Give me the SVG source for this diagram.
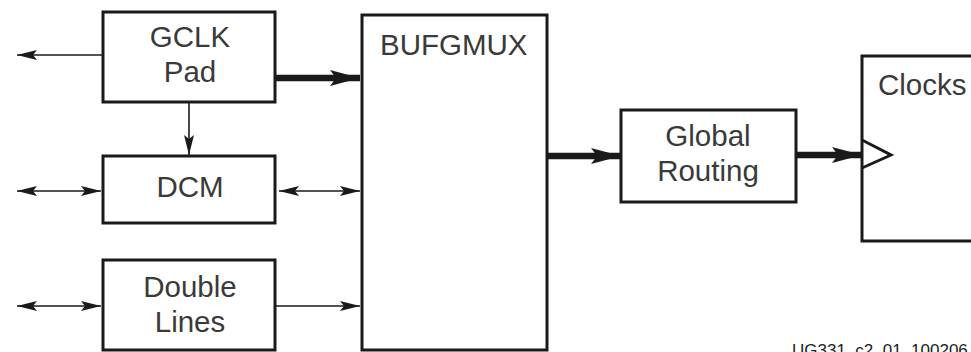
<svg xmlns="http://www.w3.org/2000/svg" width="971" height="352" viewBox="0 0 971 352">
<style>
.box{fill:#fff;stroke:#1a1a1a;stroke-width:3}
.lbl{font-family:"Liberation Sans",Arial,sans-serif;font-size:29.5px;fill:#3a3a3a}
.c{text-anchor:middle}
.thin{stroke:#1a1a1a;stroke-width:1.6;fill:none}
.thick{stroke:#1a1a1a;stroke-width:6.5;fill:none}
</style>
<defs>
<marker id="ah" markerUnits="userSpaceOnUse" markerWidth="20" markerHeight="10" refX="20" refY="5" orient="auto-start-reverse" viewBox="0 0 20 10">
<path d="M0,0 L20,5 L0,10 L4,5 z" fill="#1a1a1a"/>
</marker>
<marker id="ahT" markerUnits="userSpaceOnUse" markerWidth="30" markerHeight="16" refX="30" refY="8" orient="auto" viewBox="0 0 30 16">
<path d="M0,0 L30,8 L0,16 L6,8 z" fill="#1a1a1a"/>
</marker>
</defs>
<g id="connectors">
<line class="thin" x1="103" y1="55" x2="17" y2="55" marker-end="url(#ah)"/>
<line class="thick" x1="275" y1="78" x2="360" y2="78" marker-end="url(#ahT)"/>
<line class="thin" x1="189" y1="102" x2="189" y2="155" marker-end="url(#ah)"/>
<line class="thin" x1="17" y1="191" x2="101" y2="191" marker-start="url(#ah)" marker-end="url(#ah)"/>
<line class="thin" x1="279" y1="191" x2="360" y2="191" marker-start="url(#ah)" marker-end="url(#ah)"/>
<line class="thin" x1="17" y1="306" x2="101" y2="306" marker-start="url(#ah)" marker-end="url(#ah)"/>
<line class="thin" x1="275" y1="306" x2="360" y2="306" marker-end="url(#ah)"/>
<line class="thick" x1="544" y1="156" x2="621" y2="156" marker-end="url(#ahT)"/>
<line class="thick" x1="796" y1="155" x2="862" y2="155" marker-end="url(#ahT)"/>
</g>
<g id="gclk">
<rect class="box" x="103" y="12" width="172" height="90"/>
<text class="lbl c" x="190" y="47">GCLK</text>
<text class="lbl c" x="190" y="82">Pad</text>
</g>
<g id="dcm">
<rect class="box" x="103" y="156" width="172" height="67"/>
<text class="lbl c" x="190" y="197">DCM</text>
</g>
<g id="double">
<rect class="box" x="103" y="260" width="172" height="90"/>
<text class="lbl c" x="190" y="297">Double</text>
<text class="lbl c" x="190" y="332">Lines</text>
</g>
<g id="bufgmux">
<rect class="box" x="362" y="15" width="185" height="335"/>
<text class="lbl" x="380" y="55">BUFGMUX</text>
</g>
<g id="global">
<rect class="box" x="621" y="110" width="175" height="92"/>
<text class="lbl c" x="708" y="146">Global</text>
<text class="lbl c" x="708" y="181">Routing</text>
</g>
<g id="clocks">
<rect class="box" x="862" y="56" width="200" height="185"/>
<text class="lbl" x="878" y="95">Clocks</text>
<path d="M862,140 L891,155 L862,168" fill="none" stroke="#1a1a1a" stroke-width="3"/>
</g>
<text x="792" y="356" font-family="Liberation Sans,Arial,sans-serif" font-size="17" fill="#222">UG331_c2_01_100206</text>
</svg>
